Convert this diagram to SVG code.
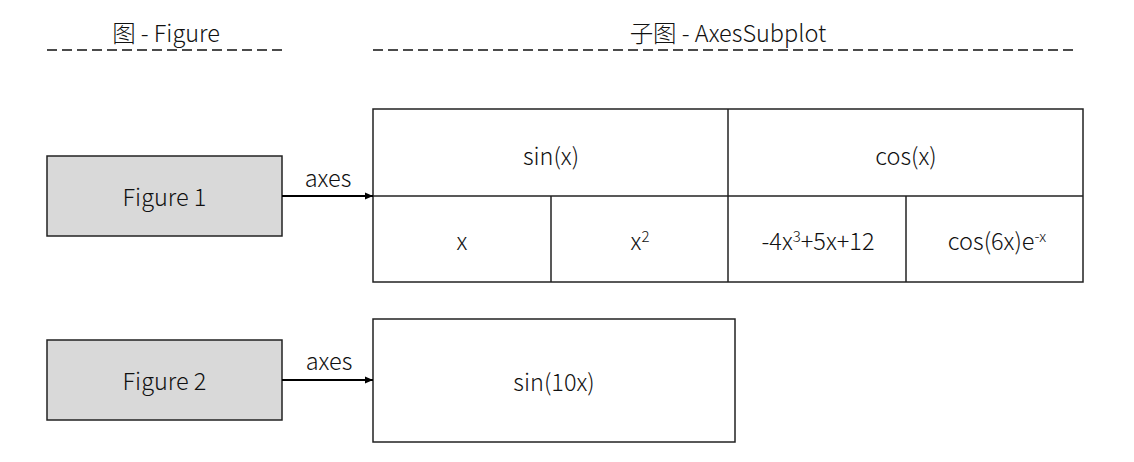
<svg xmlns="http://www.w3.org/2000/svg" width="1134" height="462" viewBox="0 0 1134 462">
<defs>
<style>
text{font-family:"Noto Sans CJK SC","Noto Sans",sans-serif;font-size:23.5px;font-weight:300;fill:#111;text-anchor:middle;dominant-baseline:central}
.fig{fill:#d9d9d9;stroke:#222;stroke-width:1.5}
.cell{fill:#fff;stroke:#222;stroke-width:1.5}
.ln{stroke:#222;stroke-width:1.5;fill:none}
.dash{stroke:#111;stroke-width:1.6;stroke-dasharray:10 5;fill:none}
.arr{stroke:#000;stroke-width:2;fill:none;marker-end:url(#ah)}
</style>
<marker id="ah" markerWidth="10" markerHeight="10" refX="8" refY="5" orient="auto" markerUnits="userSpaceOnUse">
<path d="M0,1.5 L8,5 L0,8.5 z" fill="#000"/>
</marker>
</defs>
<g id="header-figure">
<text x="166" y="32">图 - Figure</text>
<line class="dash" x1="47" y1="50" x2="282" y2="50"/>
</g>
<g id="header-subplot">
<text x="728" y="32">子图 - AxesSubplot</text>
<line class="dash" x1="373" y1="50" x2="1078" y2="50"/>
</g>
<g id="figure1">
<rect class="fig" x="47" y="156" width="235" height="80"/>
<text x="164.5" y="196">Figure 1</text>
</g>
<g id="figure2">
<rect class="fig" x="47" y="340" width="235" height="80"/>
<text x="164.5" y="380">Figure 2</text>
</g>
<g id="subplot1">
<rect class="cell" x="373" y="109" width="710" height="173"/>
<line class="ln" x1="373" y1="196" x2="1083" y2="196"/>
<line class="ln" x1="728" y1="109" x2="728" y2="282"/>
<line class="ln" x1="551" y1="196" x2="551" y2="282"/>
<line class="ln" x1="906" y1="196" x2="906" y2="282"/>
<text x="551" y="155">sin(x)</text>
<text x="906" y="155">cos(x)</text>
<text x="462" y="240">x</text>
<text x="640" y="240"><tspan>x</tspan><tspan dy="-5" font-size="15">2</tspan></text>
<text x="818" y="240"><tspan>-4x</tspan><tspan dy="-5" font-size="15">3</tspan><tspan dy="5">+5x+12</tspan></text>
<text x="997" y="240"><tspan>cos(6x)e</tspan><tspan dy="-5" font-size="15">-x</tspan></text>
</g>
<g id="subplot2">
<rect class="cell" x="373" y="319" width="362" height="123"/>
<text x="554" y="381">sin(10x)</text>
</g>
<g id="connectors">
<line class="arr" x1="282" y1="196" x2="373" y2="196"/>
<text x="328" y="177">axes</text>
<line class="arr" x1="282" y1="380" x2="373" y2="380"/>
<text x="329" y="360">axes</text>
</g>
</svg>
